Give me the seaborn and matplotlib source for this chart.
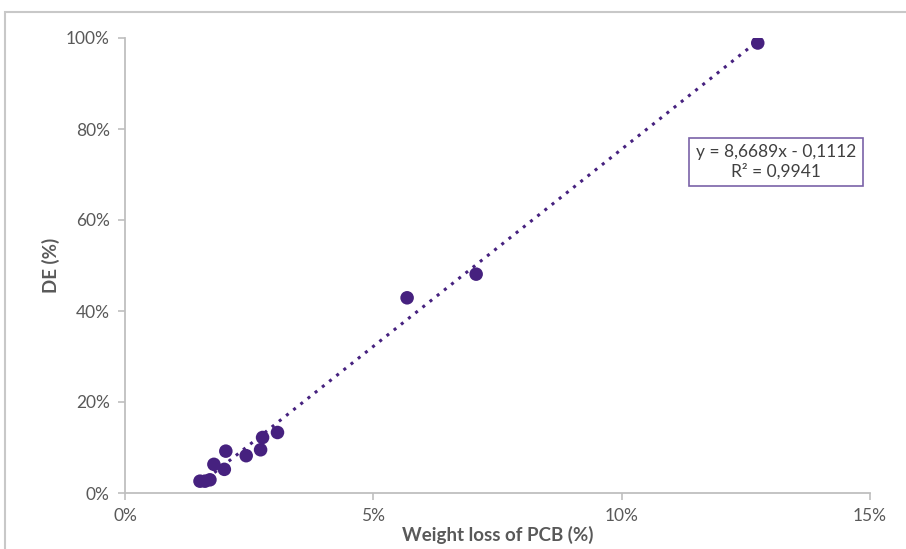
import matplotlib
matplotlib.use("Agg")
import matplotlib.pyplot as plt
import seaborn as sns
import numpy as np
import pandas as pd
from matplotlib.ticker import PercentFormatter, MultipleLocator
from matplotlib.patches import Rectangle

# Data (fractions)
weight_loss = [0.0151, 0.0161, 0.0171, 0.0179, 0.0200, 0.0203, 0.0244, 0.0273, 0.0277, 0.0307, 0.0568, 0.0707, 0.1274]
de = [0.026, 0.026, 0.029, 0.063, 0.052, 0.092, 0.082, 0.095, 0.122, 0.133, 0.429, 0.481, 0.989]
slope = 8.6689
intercept = -0.1112
eq_label = "y = 8,6689x - 0,1112\nR² = 0,9941"

sns.set_theme(style="white")
plt.rcParams['font.family'] = ['Lato', 'DejaVu Sans']

purple = "#46217F"
gray = "#595959"
axis_gray = "#BFBFBF"

fig = plt.figure(figsize=(9.06, 5.49), dpi=100)
ax = fig.add_axes([125/906, 1-493/549, (870-125)/906, (493-38)/549])

df = pd.DataFrame({"x": weight_loss, "y": de})
xs = np.array([min(weight_loss), max(weight_loss)])
trend = pd.DataFrame({"x": xs, "y": slope * xs + intercept})
sns.lineplot(data=trend, x="x", y="y", ax=ax, color=purple, linestyle=(0, (1, 2)), linewidth=2.2)
sns.scatterplot(data=df, x="x", y="y", ax=ax, color=purple, s=95, edgecolor="none", zorder=3)

ax.set_xlim(0, 0.15)
ax.set_ylim(0, 1.0)
ax.xaxis.set_major_locator(MultipleLocator(0.05))
ax.yaxis.set_major_locator(MultipleLocator(0.2))
ax.xaxis.set_major_formatter(PercentFormatter(1.0, decimals=0))
ax.yaxis.set_major_formatter(PercentFormatter(1.0, decimals=0))

for s in ["top", "right"]:
    ax.spines[s].set_visible(False)
for s in ["left", "bottom"]:
    ax.spines[s].set_color(axis_gray)
    ax.spines[s].set_linewidth(1.3)
ax.tick_params(axis="both", which="major", direction="out", length=5, width=1.2,
               color=axis_gray, labelcolor=gray, labelsize=12.5, pad=6,
               bottom=True, left=True)

ax.set_xlabel("Weight loss of PCB (%)", fontsize=13.5, fontweight="bold", color=gray, labelpad=1)
ax.set_ylabel("DE (%)", fontsize=13.5, fontweight="bold", color=gray, labelpad=4)

fig.text(776/906, 1-162/549, eq_label, ha="center", va="center", fontsize=12.5,
         color="#404040", linespacing=1.2,
         bbox=dict(boxstyle="square,pad=0.4", facecolor="white", edgecolor="#7A62A8", linewidth=1.2))

# Chart-area outer border
fig.add_artist(Rectangle((5/906, -0.1), 1.2, 1.1 - 12/549, transform=fig.transFigure,
                         fill=False, edgecolor="#C8C8C8", linewidth=1.5))

fig.savefig("out.png", dpi=100)
